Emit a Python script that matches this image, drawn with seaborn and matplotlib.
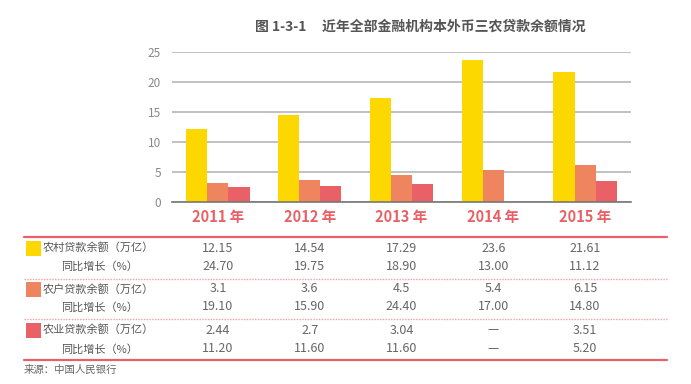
import numpy as np
import pandas as pd
import matplotlib
matplotlib.use("Agg")
import matplotlib.pyplot as plt
import matplotlib.transforms as mtransforms
import seaborn as sns

# data
years = ["2011 年", "2012 年", "2013 年", "2014 年", "2015 年"]
series_names = ["农村贷款余额（万亿）", "农户贷款余额（万亿）", "农业贷款余额（万亿）"]
rural_loans = [12.15, 14.54, 17.29, 23.6, 21.61]
rural_growth = ["24.70", "19.75", "18.90", "13.00", "11.12"]
farmer_loans = [3.1, 3.6, 4.5, 5.4, 6.15]
farmer_growth = ["19.10", "15.90", "24.40", "17.00", "14.80"]
agri_loans = [2.44, 2.7, 3.04, np.nan, 3.51]
agri_growth = ["11.20", "11.60", "11.60", "—", "5.20"]
value_labels = [
    ["12.15", "14.54", "17.29", "23.6", "21.61"],
    ["3.1", "3.6", "4.5", "5.4", "6.15"],
    ["2.44", "2.7", "3.04", "—", "3.51"],
]
growth_labels = [rural_growth, farmer_growth, agri_growth]
colors = ["#FDD800", "#EE855E", "#E96166"]

sns.set_theme(style="white")
plt.rcParams["font.family"] = ["Noto Sans CJK SC", "DejaVu Sans"]

df = pd.DataFrame({
    "year": years * 3,
    "series": [series_names[0]] * 5 + [series_names[1]] * 5 + [series_names[2]] * 5,
    "value": rural_loans + farmer_loans + agri_loans,
})

W, H = 691, 384
fig = plt.figure(figsize=(W / 100, H / 100), dpi=100)
ax = fig.add_axes([172 / W, (H - 202) / H, 459 / W, 150 / H])

sns.barplot(data=df, x="year", y="value", hue="series", palette=colors,
            width=0.69, saturation=1, legend=False, linewidth=0, edgecolor="none",
            ax=ax, zorder=3)

ax.set_xlim(-0.5, 4.5)
ax.set_ylim(0, 25)
ax.set_yticks([0, 5, 10, 15, 20, 25])
ax.yaxis.grid(True, color="#b0b0b0", linewidth=1.1, zorder=0)
for side in ["top", "right", "left"]:
    ax.spines[side].set_visible(False)
ax.spines["bottom"].set_color("#777777")
ax.spines["bottom"].set_linewidth(1.2)
ax.spines["bottom"].set_zorder(4)
ax.tick_params(axis="y", length=0, labelsize=8.5, labelcolor="#888888", pad=8)
ax.tick_params(axis="x", length=0, labelsize=10.5, labelcolor="#E96166", pad=5)
for lbl in ax.get_xticklabels():
    lbl.set_fontweight("bold")
ax.set_xlabel("")
ax.set_ylabel("")

# title
fig.text(420 / W, 1 - 27 / H, "图 1-3-1     近年全部金融机构本外币三农贷款余额情况",
         ha="center", va="center", fontsize=10, fontweight="bold", color="#555555")

# table area in pixel coordinates
tab = fig.add_axes([0, 0, 1, 1], zorder=-1)
tab.set_xlim(0, W)
tab.set_ylim(H, 0)
tab.axis("off")
blend = mtransforms.blended_transform_factory(ax.transData, tab.transData)

line_color = "#E96166"
tab.plot([24, 667], [237, 237], color=line_color, linewidth=1.6)
tab.plot([24, 667], [279, 279], color="#F0A0A0", linewidth=1.0, linestyle=(0, (1, 1)))
tab.plot([24, 667], [319, 319], color="#F0A0A0", linewidth=1.0, linestyle=(0, (1, 1)))
tab.plot([24, 667], [360, 360], color=line_color, linewidth=1.6)

row_y = [(248, 266), (289, 307), (330, 349)]
text_color = "#555555"
for i, (y1, y2) in enumerate(row_y):
    tab.add_patch(plt.Rectangle((26, y1 - 7), 15, 15, color=colors[i], linewidth=0))
    tab.text(43, y1, series_names[i], ha="left", va="center", fontsize=8, color=text_color)
    tab.text(61, y2, "同比增长（%）", ha="left", va="center", fontsize=8, color=text_color)
    for j in range(len(years)):
        tab.text(j, y1, value_labels[i][j], transform=blend, ha="center", va="center",
                 fontsize=9, color="#666666")
        tab.text(j, y2, growth_labels[i][j], transform=blend, ha="center", va="center",
                 fontsize=9, color="#666666")

fig.text(24 / W, 1 - 370 / H, "来源：中国人民银行", ha="left", va="center",
         fontsize=7.5, color="#666666")

fig.savefig("out.png", dpi=100)
